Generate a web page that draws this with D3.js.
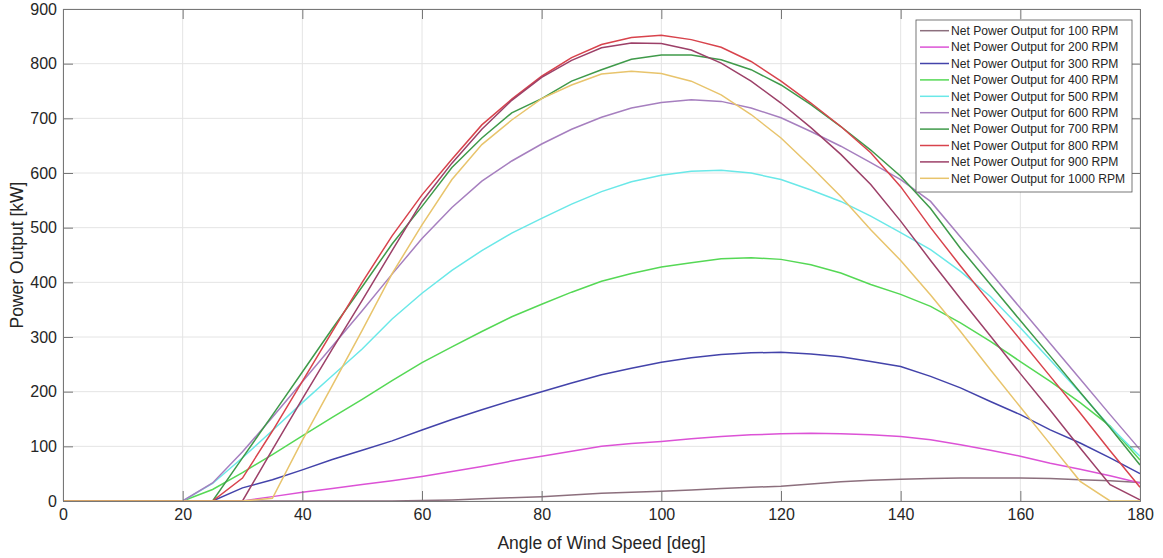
<!DOCTYPE html>
<html lang="en">
<head>
    <meta charset="UTF-8">
    <title>Net Power Output vs Angle</title>
    <script src="https://d3js.org/d3.v7.min.js"></script>
    <style>
        body { margin: 0; background: #fff; }
        text { font-family: "Liberation Sans", Arial, Helvetica, sans-serif; fill: #262626; }
        .grid line { stroke: #e4e4e4; stroke-width: 1px; }
        .series { fill: none; stroke-width: 1.5px; }
    </style>
</head>
<body>
    <script>
        // Angle samples (deg)
        const angles = [0, 5, 10, 15, 20, 25, 30, 35, 40, 45, 50, 55, 60, 65, 70, 75, 80, 85, 90,
            95, 100, 105, 110, 115, 120, 125, 130, 135, 140, 145, 150, 155, 160, 165, 170, 175, 180];

        // Net power output [kW] per rotor speed
        const p100 = [0, 0, 0, 0, 0, 0, 0, 0, 0, 0, 0, 0, 1, 2, 4, 6, 8, 11, 14,
            16, 18, 20, 23, 25, 27, 31, 35, 38, 40, 41, 42, 42, 42, 41, 39, 37, 34];
        const p200 = [0, 0, 0, 0, 0, 0, 0, 8, 16, 23, 30, 37, 45, 54, 63, 73, 82, 91, 100,
            105, 109, 114, 118, 121, 123, 124, 123, 121, 118, 112, 103, 93, 82, 69, 58, 46, 33];
        const p300 = [0, 0, 0, 0, 0, 0, 24, 39, 57, 76, 93, 110, 130, 149, 167, 184, 200, 216, 231,
            243, 254, 262, 268, 271, 272, 269, 264, 255, 246, 228, 207, 182, 158, 130, 106, 79, 50];
        const p400 = [0, 0, 0, 0, 0, 21, 52, 85, 119, 153, 186, 220, 253, 282, 310, 337, 360, 382, 402,
            416, 428, 436, 443, 445, 442, 432, 417, 396, 378, 356, 326, 292, 255, 219, 180, 137, 75];
        const p500 = [0, 0, 0, 0, 0, 32, 79, 129, 180, 229, 278, 333, 380, 422, 458, 490, 517, 543, 566,
            584, 596, 603, 605, 600, 588, 569, 548, 521, 491, 460, 420, 374, 317, 258, 198, 136, 82];
        const p600 = [0, 0, 0, 0, 0, 33, 90, 153, 218, 283, 348, 415, 480, 537, 585, 622, 653, 680, 702,
            719, 729, 734, 731, 719, 701, 676, 649, 619, 588, 548, 483, 418, 353, 288, 223, 158, 94];
        const p700 = [0, 0, 0, 0, 0, 0, 79, 157, 236, 315, 392, 470, 539, 610, 664, 710, 736, 768, 789,
            808, 816, 816, 807, 789, 761, 725, 685, 642, 594, 535, 462, 396, 330, 265, 199, 134, 66];
        const p800 = [0, 0, 0, 0, 0, 0, 42, 128, 219, 310, 400, 485, 560, 625, 688, 735, 777, 811, 835,
            848, 852, 844, 830, 804, 768, 728, 685, 637, 575, 500, 430, 362, 295, 228, 161, 92, 25];
        const p900 = [0, 0, 0, 0, 0, 0, 0, 94, 187, 278, 367, 458, 548, 618, 680, 733, 775, 806, 829,
            838, 837, 825, 801, 768, 728, 683, 634, 579, 512, 440, 370, 302, 233, 166, 97, 30, 2];
        const p1000 = [0, 0, 0, 0, 0, 0, 0, 5, 111, 211, 312, 416, 505, 588, 652, 697, 736, 761, 781,
            786, 782, 768, 743, 707, 664, 612, 557, 496, 440, 377, 310, 240, 172, 104, 36, 0, 0];

        const labels = ["Net Power Output for 100 RPM", "Net Power Output for 200 RPM",
            "Net Power Output for 300 RPM", "Net Power Output for 400 RPM",
            "Net Power Output for 500 RPM", "Net Power Output for 600 RPM",
            "Net Power Output for 700 RPM", "Net Power Output for 800 RPM",
            "Net Power Output for 900 RPM", "Net Power Output for 1000 RPM"];
        const colors = ["#8c6f7d", "#dc52d6", "#4343aa", "#55d855", "#6ae8e8",
            "#a67fbf", "#3f9a4a", "#d8434c", "#9c4068", "#e8c46c"];
        const xTicks = [0, 20, 40, 60, 80, 100, 120, 140, 160, 180];
        const yTicks = [0, 100, 200, 300, 400, 500, 600, 700, 800, 900];

        const seriesValues = [p100, p200, p300, p400, p500, p600, p700, p800, p900, p1000];

        const width = 1163;
        const height = 558;
        const margin = { top: 9, right: 23, bottom: 57, left: 63 };
        const innerW = width - margin.left - margin.right;
        const innerH = height - margin.top - margin.bottom;

        const svg = d3.select("body")
            .append("svg")
            .attr("width", width)
            .attr("height", height);

        const g = svg.append("g")
            .attr("transform", `translate(${margin.left},${margin.top})`);

        const x = d3.scaleLinear().domain([0, 180]).range([0, innerW]);
        const y = d3.scaleLinear().domain([0, 900]).range([innerH, 0]);

        // Grid
        g.append("g").attr("class", "grid")
            .selectAll("line.v").data(xTicks).enter().append("line")
            .attr("x1", d => x(d)).attr("x2", d => x(d))
            .attr("y1", 0).attr("y2", innerH);
        g.append("g").attr("class", "grid")
            .selectAll("line.h").data(yTicks).enter().append("line")
            .attr("x1", 0).attr("x2", innerW)
            .attr("y1", d => y(d)).attr("y2", d => y(d));

        // Lines
        const line = d3.line()
            .x((d, i) => x(angles[i]))
            .y(d => y(d));

        g.append("g")
            .selectAll("path")
            .data(seriesValues)
            .enter()
            .append("path")
            .attr("class", "series")
            .attr("stroke", (d, i) => colors[i])
            .attr("d", line);

        // Axes (MATLAB style: ticks inside, box on)
        const axisColor = "#777";
        const tickLen = 10;

        const xAxis = g.append("g")
            .attr("transform", `translate(0,${innerH})`)
            .call(d3.axisBottom(x).tickValues(xTicks).tickSize(-tickLen).tickPadding(8));
        const xTop = g.append("g")
            .call(d3.axisTop(x).tickValues(xTicks).tickSize(-tickLen).tickFormat(""));
        const yAxis = g.append("g")
            .call(d3.axisLeft(y).tickValues(yTicks).tickSize(-tickLen).tickPadding(6));
        const yRight = g.append("g")
            .attr("transform", `translate(${innerW},0)`)
            .call(d3.axisRight(y).tickValues(yTicks).tickSize(-tickLen).tickFormat(""));

        [xAxis, xTop, yAxis, yRight].forEach(a => {
            a.select(".domain").attr("stroke", axisColor);
            a.selectAll(".tick line").attr("stroke", axisColor);
        });
        xAxis.selectAll(".tick text").style("font-size", "16px").attr("fill", "#262626");
        yAxis.selectAll(".tick text").style("font-size", "16px").attr("fill", "#262626");

        // Axis titles
        svg.append("text")
            .attr("x", margin.left + innerW / 2)
            .attr("y", 549)
            .attr("text-anchor", "middle")
            .style("font-size", "17.5px")
            .text("Angle of Wind Speed [deg]");

        svg.append("text")
            .attr("transform", `translate(23,${margin.top + innerH / 2}) rotate(-90)`)
            .attr("text-anchor", "middle")
            .style("font-size", "17.5px")
            .text("Power Output [kW]");

        // Legend
        const legend = svg.append("g").attr("transform", "translate(916,20)");
        legend.append("rect")
            .attr("width", 216).attr("height", 172)
            .attr("fill", "#fff")
            .attr("stroke", "#555").attr("stroke-width", 0.8);

        const rowH = 16.4;
        const items = legend.selectAll("g.item")
            .data(labels)
            .enter()
            .append("g")
            .attr("transform", (d, i) => `translate(0,${10.7 + i * rowH})`);
        items.append("line")
            .attr("x1", 4).attr("x2", 33)
            .attr("stroke", (d, i) => colors[i])
            .attr("stroke-width", 1.5);
        items.append("text")
            .attr("x", 35)
            .attr("dy", "0.36em")
            .style("font-size", "12.1px")
            .text(d => d);
    </script>
</body>
</html>
